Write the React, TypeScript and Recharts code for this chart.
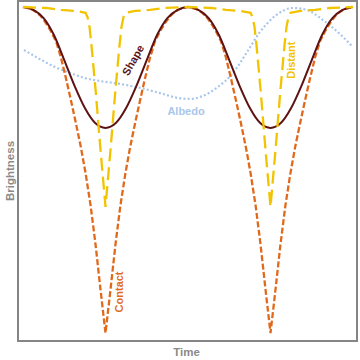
import React from 'react';
import { LineChart, Line, XAxis, YAxis, ReferenceArea, ReferenceDot, Label } from 'recharts';

// Phase (time) values and brightness
const shapeTime = [0, 0.0625, 0.125, 0.1875, 0.25, 0.3125, 0.375, 0.4375, 0.5, 0.5625, 0.625, 0.6875, 0.75, 0.8125, 0.875, 0.9375,
  1, 1.0625, 1.125, 1.1875, 1.25, 1.3125, 1.375, 1.4375, 1.5, 1.5625, 1.625, 1.6875, 1.75, 1.8125, 1.875, 1.9375, 2];
const shapeBrightness = [1.0, 0.991, 0.966, 0.914, 0.837, 0.758, 0.69, 0.644, 0.629, 0.644, 0.69, 0.758, 0.837, 0.914, 0.966, 0.991,
  1.0, 0.991, 0.966, 0.914, 0.837, 0.758, 0.69, 0.644, 0.629, 0.644, 0.69, 0.758, 0.837, 0.914, 0.966, 0.991, 1.0];

const contactTime = [0, 0.05, 0.08, 0.11, 0.14, 0.17, 0.2, 0.23, 0.26, 0.29, 0.32, 0.35, 0.38, 0.41, 0.44, 0.47, 0.5,
  0.53, 0.56, 0.59, 0.62, 0.65, 0.68, 0.71, 0.74, 0.77, 0.8, 0.83, 0.86, 0.89, 0.92, 0.95, 1.0,
  1.05, 1.08, 1.11, 1.14, 1.17, 1.2, 1.23, 1.26, 1.29, 1.32, 1.35, 1.38, 1.41, 1.44, 1.47, 1.5,
  1.53, 1.56, 1.59, 1.62, 1.65, 1.68, 1.71, 1.74, 1.77, 1.8, 1.83, 1.86, 1.89, 1.92, 1.95, 2.0];
const contactBrightness = [1.0, 0.994, 0.985, 0.971, 0.95, 0.925, 0.895, 0.845, 0.782, 0.715, 0.645, 0.572, 0.488, 0.39, 0.27, 0.132, 0.0,
  0.132, 0.27, 0.39, 0.488, 0.572, 0.645, 0.715, 0.782, 0.845, 0.895, 0.925, 0.95, 0.971, 0.985, 0.994, 1.0,
  0.994, 0.985, 0.971, 0.95, 0.925, 0.895, 0.845, 0.782, 0.715, 0.645, 0.572, 0.488, 0.39, 0.27, 0.132, 0.0,
  0.132, 0.27, 0.39, 0.488, 0.572, 0.645, 0.715, 0.782, 0.845, 0.895, 0.925, 0.95, 0.971, 0.985, 0.994, 1.0];

const distantTime = [0, 0.14, 0.23, 0.32, 0.379, 0.391, 0.403, 0.415, 0.44, 0.47, 0.5,
  0.53, 0.56, 0.585, 0.597, 0.609, 0.621, 0.68, 0.77, 0.86, 1.0,
  1.14, 1.23, 1.32, 1.379, 1.391, 1.403, 1.415, 1.44, 1.47, 1.5,
  1.53, 1.56, 1.585, 1.597, 1.609, 1.621, 1.68, 1.77, 1.86, 2.0];
const distantBrightness = [1.0, 0.997, 0.991, 0.988, 0.982, 0.969, 0.939, 0.883, 0.745, 0.56, 0.387,
  0.56, 0.745, 0.883, 0.939, 0.969, 0.982, 0.988, 0.991, 0.997, 1.0,
  0.997, 0.991, 0.988, 0.982, 0.969, 0.939, 0.883, 0.745, 0.56, 0.387,
  0.56, 0.745, 0.883, 0.939, 0.969, 0.982, 0.988, 0.991, 0.997, 1.0];

const albedoTime = [0.006, 0.103, 0.194, 0.285, 0.376, 0.467, 0.588, 0.709, 0.83, 0.939, 1.012, 1.103, 1.182, 1.267, 1.358, 1.436, 1.527, 1.636, 1.721, 1.818, 1.921, 1.994];
const albedoBrightness = [0.868, 0.84, 0.816, 0.798, 0.782, 0.773, 0.764, 0.752, 0.736, 0.721, 0.718, 0.73, 0.755, 0.794, 0.862, 0.923, 0.972, 0.997, 0.991, 0.96, 0.917, 0.88];

const seriesLabels = ['Shape', 'Distant', 'Albedo', 'Contact'];
const labelTime = [0.667, 1.624, 0.988, 0.582];
const labelBrightness = [0.837, 0.837, 0.681, 0.126];

const X_DOMAIN: [number, number] = [-0.0303, 2.0242];
const Y_DOMAIN: [number, number] = [-0.0245, 1.0184];

const zip = (t: number[], b: number[]) => t.map((v, i) => ({ t: v, b: b[i] }));

const shapeData = zip(shapeTime, shapeBrightness);
const contactData = zip(contactTime, contactBrightness);
const distantData = zip(distantTime, distantBrightness);
const albedoData = zip(albedoTime, albedoBrightness);

const COLORS = {
  Shape: '#5e1212',
  Contact: '#e06a1c',
  Distant: '#f2c400',
  Albedo: '#a9c7ea',
};
const LABEL_ANGLES = [-60, -90, 0, -90];
const FONT = '"Liberation Sans", Arial, sans-serif';

const AxisTitles = (props: any) => {
  const vb = props.viewBox || {};
  const cx = vb.x + vb.width / 2;
  const cy = vb.y + vb.height / 2;
  return (
    <g>
      <text x={cx - 1} y={vb.y + vb.height + 15} textAnchor="middle" fontFamily={FONT} fontWeight="bold" fontSize={11.5} fill="#8a8a8a">Time</text>
      <text x={vb.x - 8} y={cy} transform={`rotate(-90, ${vb.x - 8}, ${cy})`} textAnchor="middle" dominantBaseline="central" fontFamily={FONT} fontWeight="bold" fontSize={11.5} fill="#8a8a8a">Brightness</text>
    </g>
  );
};

export default function App() {
  return (
    <div style={{ position: 'absolute', left: 0, top: 0, width: 360, height: 360, background: '#fff' }}>
      <LineChart width={360} height={360} margin={{ top: 1, right: 3, bottom: 19, left: 18 }}>
        <XAxis type="number" dataKey="t" domain={X_DOMAIN} allowDataOverflow hide />
        <YAxis type="number" dataKey="b" domain={Y_DOMAIN} allowDataOverflow hide />
        <ReferenceArea x1={X_DOMAIN[0]} x2={X_DOMAIN[1]} y1={Y_DOMAIN[0]} y2={Y_DOMAIN[1]} fill="none" fillOpacity={0} stroke="#858585" strokeWidth={2} strokeOpacity={1}>
          <Label content={AxisTitles} />
        </ReferenceArea>
        <Line data={albedoData} dataKey="b" type="monotone" stroke={COLORS.Albedo} strokeWidth={2.2} strokeDasharray="2 2.2" dot={false} isAnimationActive={false} />
        <Line data={contactData} dataKey="b" type="linear" stroke={COLORS.Contact} strokeWidth={2.3} strokeDasharray="6 2.5" dot={false} isAnimationActive={false} />
        <Line data={shapeData} dataKey="b" type="monotone" stroke={COLORS.Shape} strokeWidth={2} dot={false} isAnimationActive={false} />
        <Line data={distantData} dataKey="b" type="linear" stroke={COLORS.Distant} strokeWidth={2.3} strokeDasharray="13 6" dot={false} isAnimationActive={false} />
        {seriesLabels.map((name, i) => (
          <ReferenceDot key={name} x={labelTime[i]} y={labelBrightness[i]} r={1} fill="none" stroke="none">
            <Label value={name} position="center" angle={LABEL_ANGLES[i]} fill={(COLORS as any)[name]} fontFamily={FONT} fontWeight="bold" fontSize={11} />
          </ReferenceDot>
        ))}
      </LineChart>
    </div>
  );
}
